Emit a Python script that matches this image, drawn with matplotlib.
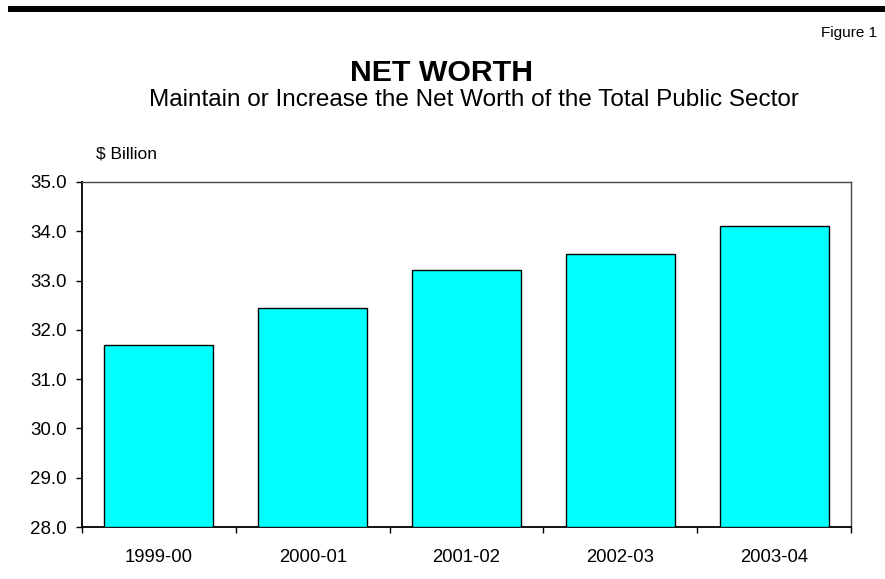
import matplotlib
matplotlib.use("Agg")
import matplotlib.pyplot as plt
from matplotlib.ticker import FixedLocator, NullFormatter, FormatStrFormatter

plt.rcParams['font.family'] = ['Liberation Sans', 'DejaVu Sans']

years = ["1999-00", "2000-01", "2001-02", "2002-03", "2003-04"]
net_worth = [31.70, 32.45, 33.21, 33.53, 34.10]

W, H = 885, 579
fig = plt.figure(figsize=(W / 100, H / 100), dpi=100)

# plot area in pixel coordinates
left, right, top, bottom = 82, 851, 182, 527
ax = fig.add_axes([left / W, 1 - bottom / H, (right - left) / W, (bottom - top) / H])

x = list(range(len(years)))
ax.bar(x, [v - 28.0 for v in net_worth], bottom=28.0, width=0.71,
       color="#00FFFF", edgecolor="#000000", linewidth=1.0, zorder=3)

ax.set_xlim(-0.5, len(years) - 0.5)
ax.set_ylim(28.0, 35.0)
ax.set_yticks([28 + i for i in range(8)])
ax.yaxis.set_major_formatter(FormatStrFormatter("%.1f"))

# category labels centred, tick marks on the category boundaries
ax.xaxis.set_major_locator(FixedLocator([i - 0.5 for i in range(len(years) + 1)]))
ax.xaxis.set_major_formatter(NullFormatter())
ax.xaxis.set_minor_locator(FixedLocator(x))
ax.set_xticklabels(years, minor=True)
ax.tick_params(axis="x", which="minor", length=0, pad=16, labelsize=13.3)
ax.tick_params(axis="x", which="major", length=4.5, width=1.0, direction="out")
ax.tick_params(axis="y", length=4.5, width=1.0, direction="out", pad=6.3, labelsize=13.5)

for side in ["left", "bottom"]:
    ax.spines[side].set_linewidth(1.3)
for side in ["top", "right"]:
    ax.spines[side].set_linewidth(1.0)
    ax.spines[side].set_color("#444444")

# thick rule across the top
fig.add_artist(plt.Rectangle((8 / W, 1 - 12 / H), (W - 8) / W, 6 / H,
                             transform=fig.transFigure, color="black", lw=0))

fig.text(877 / W, 1 - 37 / H, "Figure 1", ha="right", va="baseline", fontsize=11)
fig.text(442 / W, 1 - 81 / H, "NET WORTH", ha="center", va="baseline",
         fontsize=21.8, fontweight="bold")
fig.text(474 / W, 1 - 106 / H, "Maintain or Increase the Net Worth of the Total Public Sector",
         ha="center", va="baseline", fontsize=17.5)
fig.text(96 / W, 1 - 158 / H, "$ Billion", ha="left", va="baseline", fontsize=12.5)

fig.savefig("out.png", dpi=100)
